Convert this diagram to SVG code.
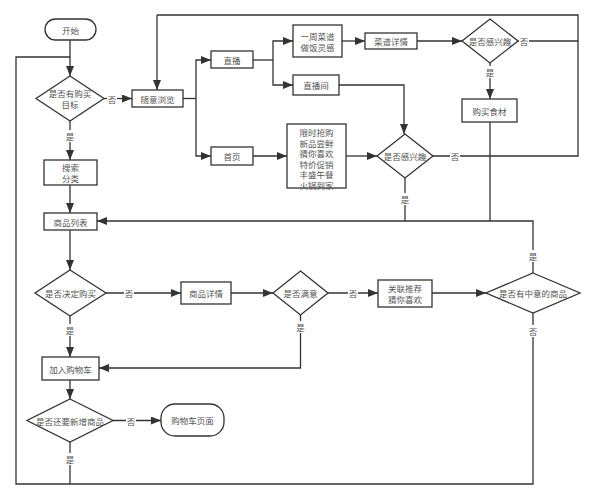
<svg xmlns="http://www.w3.org/2000/svg" width="595" height="500" viewBox="0 0 595 500">
<defs>
<marker id="arr" markerUnits="userSpaceOnUse" markerWidth="10" markerHeight="8" refX="10" refY="4" orient="auto">
<path d="M0,0 L10,4 L0,8 z" fill="#333"/>
</marker>
<style>
.b{fill:#fff;stroke:#333;stroke-width:1.3}
.t{font-family:"Noto Sans CJK SC","Liberation Sans",sans-serif;font-size:8.5px;fill:#555;text-anchor:middle;dominant-baseline:central}
.c{fill:none;stroke:#333;stroke-width:1.3}
.a{marker-end:url(#arr)}
.lb{fill:#fff}
</style>
</defs>
<rect width="595" height="500" fill="#fff"/>
<g id="connectors">
<path class="c a" d="M70,40 V76"/>
<path class="c" d="M533,313 V484 H16 V57 H70"/>
<path class="c a" d="M104,98.5 H132"/>
<path class="c a" d="M70,121 V160"/>
<path class="c a" d="M70,185 V213"/>
<path class="c a" d="M70,230 V270"/>
<path class="c a" d="M106,293 H181"/>
<path class="c a" d="M70,316 V357"/>
<path class="c a" d="M231,293 H273"/>
<path class="c a" d="M328,293 H378"/>
<path class="c a" d="M300.5,315 V368 H99"/>
<path class="c a" d="M432,293 H486"/>
<path class="c a" d="M533,273 V221 H97"/>
<path class="c a" d="M70,380 V399"/>
<path class="c a" d="M113,420.5 H161"/>
<path class="c" d="M70,442 V484"/>
<path class="c" d="M183,98.5 H196"/>
<path class="c a" d="M196,98.5 V60 H211"/>
<path class="c a" d="M196,98.5 V156 H211"/>
<path class="c" d="M253,60 H273"/>
<path class="c a" d="M273,60 V41 H293"/>
<path class="c a" d="M273,60 V85 H293"/>
<path class="c a" d="M342,41 H365"/>
<path class="c a" d="M417,41 H462"/>
<path class="c" d="M518,41 H578"/>
<path class="c a" d="M490,63 V99"/>
<path class="c" d="M490,122 V221"/>
<path class="c a" d="M339,85 H404 V134"/>
<path class="c a" d="M253,156 H287"/>
<path class="c a" d="M346,156 H377"/>
<path class="c" d="M433,156 H578 V15 H157"/>
<path class="c a" d="M157,15 V90"/>
<path class="c" d="M405,178 V221"/>
<rect class="lb" x="107" y="93" width="10" height="11"/><text class="t" x="112" y="98.5">否</text>
<rect class="lb" x="65" y="130" width="10" height="12"/><text class="t" x="70" y="136">是</text>
<rect class="lb" x="124" y="287" width="10" height="12"/><text class="t" x="129" y="293">否</text>
<rect class="lb" x="65" y="324" width="10" height="12"/><text class="t" x="70" y="330">是</text>
<rect class="lb" x="348" y="287" width="10" height="12"/><text class="t" x="353" y="293">否</text>
<rect class="lb" x="295.5" y="321" width="10" height="12"/><text class="t" x="300.5" y="327">是</text>
<rect class="lb" x="528" y="250" width="10" height="12"/><text class="t" x="533" y="256">是</text>
<rect class="lb" x="528" y="325" width="10" height="12"/><text class="t" x="533" y="331">否</text>
<rect class="lb" x="126" y="414.5" width="10" height="12"/><text class="t" x="131" y="420.5">否</text>
<rect class="lb" x="65" y="453" width="10" height="12"/><text class="t" x="70" y="459">是</text>
<rect class="lb" x="519" y="35" width="10" height="12"/><text class="t" x="524" y="41">否</text>
<rect class="lb" x="485" y="66" width="10" height="12"/><text class="t" x="490" y="72">是</text>
<rect class="lb" x="450" y="150" width="10" height="12"/><text class="t" x="455" y="156">否</text>
<rect class="lb" x="400" y="193" width="10" height="12"/><text class="t" x="405" y="199">是</text>
</g>
<g id="start"><rect class="b" x="45" y="19" width="51" height="21" rx="10.5"/><text class="t" x="70.5" y="29.5">开始</text></g>
<g id="d1"><path class="b" d="M70,76 L104,98.5 L70,121 L36,98.5 z"/><text class="t" x="70" y="93">是否有购买</text><text class="t" x="70" y="104">目标</text></g>
<g id="browse"><rect class="b" x="132" y="90" width="51" height="17"/><text class="t" x="157.5" y="98.5">随意浏览</text></g>
<g id="search"><rect class="b" x="44" y="160" width="53" height="25"/><text class="t" x="70.5" y="167">搜索</text><text class="t" x="70.5" y="178">分类</text></g>
<g id="list"><rect class="b" x="44" y="213" width="53" height="17"/><text class="t" x="70.5" y="221.5">商品列表</text></g>
<g id="d3"><path class="b" d="M70,270 L106,293 L70,316 L35,293 z"/><text class="t" x="70.5" y="293">是否决定购买</text></g>
<g id="detail"><rect class="b" x="181" y="282" width="50" height="22"/><text class="t" x="206" y="293">商品详情</text></g>
<g id="satisfied"><path class="b" d="M300.5,271 L328,293 L300.5,315 L273,293 z"/><text class="t" x="300.5" y="293">是否满意</text></g>
<g id="recommend"><rect class="b" x="378" y="280" width="54" height="27"/><text class="t" x="405" y="288">关联推荐</text><text class="t" x="405" y="299">猜你喜欢</text></g>
<g id="d5"><path class="b" d="M533,273 L580,293 L533,313 L486,293 z"/><text class="t" x="533" y="293">是否有中意的商品</text></g>
<g id="cart"><rect class="b" x="42" y="357" width="57" height="23"/><text class="t" x="70.5" y="368.5">加入购物车</text></g>
<g id="d4"><path class="b" d="M70,399 L113,420.5 L70,442 L27,420.5 z"/><text class="t" x="70" y="420.5">是否还要新增商品</text></g>
<g id="cartpage"><rect class="b" x="161" y="404" width="63" height="32" rx="14"/><text class="t" x="192.5" y="420">购物车页面</text></g>
<g id="live"><rect class="b" x="211" y="51" width="42" height="17"/><text class="t" x="232" y="59.5">直播</text></g>
<g id="home"><rect class="b" x="211" y="147" width="42" height="18"/><text class="t" x="232" y="156">首页</text></g>
<g id="weekly"><rect class="b" x="293" y="25" width="49" height="32"/><text class="t" x="317.5" y="35.5">一周菜谱</text><text class="t" x="317.5" y="46.5">做饭灵感</text></g>
<g id="liveroom"><rect class="b" x="293" y="75" width="46" height="20"/><text class="t" x="316" y="85">直播间</text></g>
<g id="recipe"><rect class="b" x="365" y="33" width="52" height="16"/><text class="t" x="391" y="41">菜谱详情</text></g>
<g id="d6"><path class="b" d="M490,19 L518,41 L490,63 L462,41 z"/><text class="t" x="490" y="41">是否感兴趣</text></g>
<g id="buyfood"><rect class="b" x="462" y="99" width="55" height="23"/><text class="t" x="489.5" y="110.5">购买食材</text></g>
<g id="promo"><rect class="b" x="287" y="124" width="59" height="64"/>
<text class="t" x="316.5" y="132">限时抢购</text><text class="t" x="316.5" y="142.5">新品尝鲜</text><text class="t" x="316.5" y="153">猜你喜欢</text><text class="t" x="316.5" y="163.5">特价促销</text><text class="t" x="316.5" y="174">丰盛午餐</text><text class="t" x="316.5" y="184.5">火锅到家</text></g>
<g id="d7"><path class="b" d="M405,134 L433,156 L405,178 L377,156 z"/><text class="t" x="405" y="156">是否感兴趣</text></g>
</svg>
